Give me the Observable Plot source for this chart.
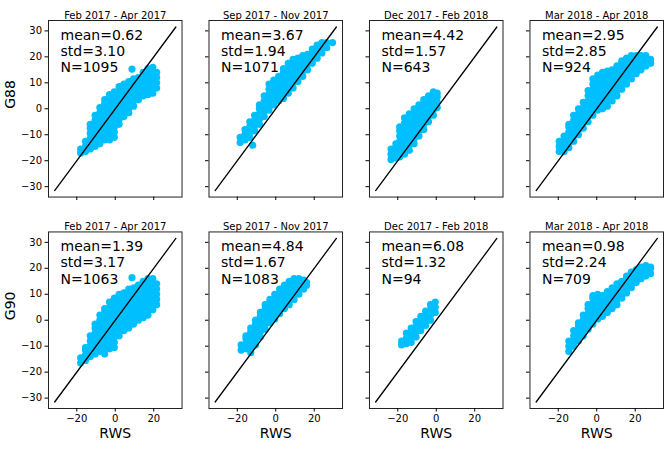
<!DOCTYPE html>
<html>
<head>
<meta charset="utf-8">
<script src="https://cdn.jsdelivr.net/npm/d3@7"></script>
<script src="https://cdn.jsdelivr.net/npm/@observablehq/plot@0.6"></script>
<style>
  html, body { margin: 0; padding: 0; background: #fff; }
  #chart { width: 669px; height: 451px; }
</style>
</head>
<body>
<div id="chart"></div>
<script>
// Panels: one column per period, one row per gauge
const periods = ["Feb 2017 - Apr 2017", "Sep 2017 - Nov 2017", "Dec 2017 - Feb 2018", "Mar 2018 - Apr 2018"];
const stations = ["G88", "G90"];

// Difference statistics printed in each panel
const meanG88 = [0.62, 3.67, 4.42, 2.95];
const stdG88 = [3.10, 1.94, 1.57, 2.85];
const countG88 = [1095, 1071, 643, 924];
const meanG90 = [1.39, 4.84, 6.08, 0.98];
const stdG90 = [3.17, 1.67, 1.32, 2.24];
const countG90 = [1063, 1083, 94, 709];

const xTicks = [-20, 0, 20];
const yTicks = [-30, -20, -10, 0, 10, 20, 30];
const diagonal = [-31.5, 31.5];

// Scatter samples, grouped by RWS value: [RWS, [gauge values]]
const g88FebApr2017 = [
  [-18, [-17, -15.5]],
  [-15.5, [-16.5, -14.5, -12.5]],
  [-13, [-15.5, -13.5, -11.5, -9.5, -7.5, -6]],
  [-10.5, [-14.5, -12.5, -10.5, -8.5, -6.5, -4.5, -2.5]],
  [-8, [-13.5, -11.5, -9.5, -7.5, -5.5, -3.5, -1.5, 0.5]],
  [-5.5, [-12, -10, -8, -6, -4, -2, 0, 2, 3.5]],
  [-3, [-12, -10, -8, -6, -4, -2, 0, 2, 4, 5.5]],
  [-0.5, [-11, -9, -7, -5, -3, -1, 1, 3, 5, 6.5]],
  [2, [-6, -4, -2, 0, 2, 4, 6, 8.5]],
  [4.5, [-3, -1, 1, 3, 5, 7, 9.5]],
  [7, [-1.5, 0.5, 2.5, 4.5, 6.5, 8.5, 10.5]],
  [8.7, [15.3]],
  [9.5, [1, 3, 5, 7, 9, 11.5]],
  [12, [3.5, 5.5, 7.5, 9.5, 12]],
  [14.5, [5, 7, 9, 11, 12.5, 14]],
  [17, [5.5, 7.5, 9.5, 11.5, 13.5, 15.5]],
  [19.5, [6, 8, 10, 12, 14, 16]],
  [21.5, [8, 10, 12, 14]]
];
const g88SepNov2017 = [
  [-18.5, [-13, -11]],
  [-16, [-12, -10, -8]],
  [-13.5, [-11, -9, -7, -5]],
  [-12, [-14]],
  [-11, [-8.5, -6.5, -4.5, -2.5]],
  [-8.5, [-6, -4, -2, 0, 1.5]],
  [-6, [-3, -1, 1, 3, 5]],
  [-3.5, [-0.5, 1.5, 3.5, 5.5, 7.5, 9.5]],
  [-1, [1.5, 3.5, 5.5, 7.5, 9.5, 11]],
  [1.5, [3, 5, 7, 9, 11, 12.5]],
  [4, [4, 6, 8, 10, 12, 14, 15.5]],
  [6.5, [6, 8, 10, 12, 14, 16, 17.5]],
  [9, [8, 10, 12, 14, 16, 18, 19]],
  [11.5, [10.5, 12.5, 14.5, 16.5, 18.5, 19.5]],
  [14, [12.5, 14.5, 16.5, 18.5, 20.5]],
  [16.5, [15, 17, 19, 21]],
  [19, [17.5, 19.5, 21.5, 23]],
  [21.5, [19.5, 21.5, 23, 24.5]],
  [24, [21.5, 23.5, 25.5]],
  [26.5, [23.5, 25.5]],
  [29.5, [25.5]]
];
const g88DecFeb2018 = [
  [-23.5, [-19.5, -17.5, -15.5]],
  [-21, [-19, -17, -15, -13.5]],
  [-19, [-18.5, -16.5, -14.5, -12.5, -10.5, -8.5, -7]],
  [-16.5, [-17.5, -15.5, -13.5, -11.5, -9.5, -7.5, -5.5, -3.5]],
  [-14, [-16, -14, -12, -10, -8, -6, -4, -2]],
  [-11.5, [-13.5, -11.5, -9.5, -7.5, -5.5, -3.5, -1.5, 0]],
  [-9, [-10.5, -8.5, -6.5, -4.5, -2.5, -0.5, 1.5]],
  [-6.5, [-8, -6, -4, -2, 0, 2, 3.5]],
  [-4, [-5, -3, -1, 1, 3, 5]],
  [-1.5, [-2.5, -0.5, 1.5, 3.5, 5.5, 6.5]],
  [0.5, [0.5, 2.5, 4.5, 6]]
];
const g88MarApr2018 = [
  [-19.5, [-16.5, -14.5, -12.5]],
  [-17, [-16.5, -14.5, -12.5, -10.5]],
  [-14.5, [-15, -13, -11, -9, -7, -6]],
  [-12, [-12.5, -10.5, -8.5, -6.5, -4.5, -2.5]],
  [-9.5, [-10, -8, -6, -4, -2, 0]],
  [-7, [-7.5, -5.5, -3.5, -1.5, 0.5, 2.5]],
  [-4.5, [-5, -3, -1, 1, 3, 5, 7]],
  [-2, [-2.5, -0.5, 1.5, 3.5, 5.5, 7.5, 9.5, 11.5]],
  [0.5, [-0.5, 1.5, 3.5, 5.5, 7.5, 9.5, 11.5, 13]],
  [3, [0, 2, 4, 6, 8, 10, 12, 14]],
  [5.5, [1, 3, 5, 7, 9, 11, 13, 14.5]],
  [8, [3, 5, 7, 9, 11, 13, 15]],
  [10.5, [5, 7, 9, 11, 13, 15, 16.5]],
  [13, [7.5, 9.5, 11.5, 13.5, 15.5, 17.5, 18.5]],
  [15.5, [9.5, 11.5, 13.5, 15.5, 17.5, 19.5]],
  [18, [11.5, 13.5, 15.5, 17.5, 19.5, 20.5]],
  [20.5, [13.5, 15.5, 17.5, 19.5, 20.5]],
  [23, [15, 17, 19, 20.5]],
  [25.5, [16.5, 18.5, 20.5]],
  [28, [17.5, 19]]
];
const g90FebApr2017 = [
  [-18, [-16.5, -14.5]],
  [-15.5, [-15.5, -13.5, -11.5, -10.5]],
  [-13, [-14, -12, -10, -8, -6]],
  [-10.5, [-13, -11, -9, -7, -5, -3, -1.5]],
  [-8, [-12, -10, -8, -6, -4, -2, 0, 2]],
  [-5.5, [-13, -11, -9, -7, -5, -3, -1, 1, 3, 4.5]],
  [-3, [-11, -9, -7, -5, -3, -1, 1, 3, 5, 7]],
  [-0.5, [-10.5, -8.5, -6.5, -4.5, -2.5, -0.5, 1.5, 3.5, 5.5, 7.5, 8.5]],
  [2, [-6, -4, -2, 0, 2, 4, 6, 8, 10]],
  [4.5, [-4, -2, 0, 2, 4, 6, 8, 10.5]],
  [7, [-3, -1, 1, 3, 5, 7, 9, 11, 12]],
  [8.7, [16.4]],
  [9.5, [-1.5, 0.5, 2.5, 4.5, 6.5, 8.5, 10.5, 12.5]],
  [12, [0, 2, 4, 6, 8, 10, 12, 13.5]],
  [14.5, [1, 3, 5, 7, 9, 11, 13, 15]],
  [17, [2, 4, 6, 8, 10, 12, 14, 16]],
  [19.5, [4, 6, 8, 10, 12, 14, 16]],
  [21.5, [6, 8, 10, 12, 14]]
];
const g90SepNov2017 = [
  [-18, [-11.5, -9.5]],
  [-15.5, [-11, -9, -7, -6]],
  [-13, [-12.5, -10.5, -8.5, -6.5, -4.5, -3]],
  [-10.5, [-9.5, -7.5, -5.5, -3.5, -1.5, 0]],
  [-8, [-6.5, -4.5, -2.5, -0.5, 1.5, 3]],
  [-5.5, [-3.5, -1.5, 0.5, 2.5, 4.5, 6]],
  [-3, [-1, 1, 3, 5, 7, 8]],
  [-0.5, [0.5, 2.5, 4.5, 6.5, 8.5, 10]],
  [2, [2.5, 4.5, 6.5, 8.5, 10.5, 12]],
  [4.5, [4.5, 6.5, 8.5, 10.5, 12.5, 13.5]],
  [7, [6, 8, 10, 12, 14, 15]],
  [9.5, [8, 10, 12, 14, 16]],
  [12, [10, 12, 14, 16]],
  [14.5, [12, 14, 15.5]],
  [16, [13.5, 14.5]]
];
const g90DecFeb2018 = [
  [-18, [-9.5, -8]],
  [-15.5, [-9, -7, -5]],
  [-13, [-8.5, -6.5, -4.5, -3]],
  [-10.5, [-6.5, -4.5, -2.5, -0.5]],
  [-8, [-4, -2, 0, 1.5]],
  [-5.5, [-2, 0, 2, 3.5]],
  [-3, [0, 2, 4, 6]],
  [-0.5, [3, 5, 7]]
];
const g90MarApr2018 = [
  [-14.5, [-12, -10, -8]],
  [-12, [-10, -8, -6, -4]],
  [-9.5, [-8, -6, -4, -2, -1]],
  [-7, [-6, -4, -2, 0, 2]],
  [-4.5, [-3.5, -1.5, 0.5, 2.5, 4.5, 6]],
  [-2, [-1.5, 0.5, 2.5, 4.5, 6.5, 8.5, 9.5]],
  [0.5, [0.5, 2.5, 4.5, 6.5, 8.5, 10]],
  [3, [1.5, 3.5, 5.5, 7.5, 9.5]],
  [5.5, [3, 5, 7, 9, 11]],
  [8, [4.5, 6.5, 8.5, 10.5, 12.5]],
  [10.5, [6, 8, 10, 12, 14]],
  [13, [8.5, 10.5, 12.5, 14.5, 15]],
  [15.5, [10.5, 12.5, 14.5, 16.5, 17]],
  [18, [12.5, 14.5, 16.5, 18.5]],
  [20.5, [14.5, 16.5, 18.5, 19.5]],
  [23, [16, 18, 20, 20.5]],
  [25.5, [17, 19, 21]],
  [28, [18, 20, 20.5]]
];

const clouds = [
  [g88FebApr2017, g88SepNov2017, g88DecFeb2018, g88MarApr2018],
  [g90FebApr2017, g90SepNov2017, g90DecFeb2018, g90MarApr2018]
];
const means = [meanG88, meanG90];
const stds = [stdG88, stdG90];
const counts = [countG88, countG90];

// Long-format rows for the dot mark
const points = [];
clouds.forEach((row, s) => row.forEach((cols, p) => {
  for (const [x, ys] of cols) for (const y of ys) {
    points.push({station: stations[s], period: periods[p], x, y});
  }
}));

// One record per panel for titles and statistics
const panels = [];
stations.forEach((station, s) => periods.forEach((period, p) => {
  panels.push({station, period, mean: means[s][p], std: stds[s][p], n: counts[s][p]});
}));

const minus = d => (d < 0 ? "\u2212" + Math.abs(d) : String(d));

const chart = Plot.plot({
  width: 669,
  height: 451,
  marginLeft: 48,
  marginRight: 6,
  marginTop: 20,
  marginBottom: 43,
  style: {fontFamily: "'DejaVu Sans', sans-serif", fontSize: "10px", background: "#fff", color: "#000"},
  fx: {domain: periods, paddingInner: 0.168, paddingOuter: 0, round: false, axis: null},
  fy: {domain: stations, paddingInner: 0.165, paddingOuter: 0, round: false, axis: null},
  x: {domain: [-34.7, 34.7]},
  y: {domain: [-34, 34]},
  marks: [
    Plot.dot(points, {fx: "period", fy: "station", x: "x", y: "y", r: 3.6, fill: "#00bfff"}),
    Plot.line(diagonal, {x: d => d, y: d => d, stroke: "#000", strokeWidth: 1.3}),
    Plot.frame({stroke: "#222", strokeWidth: 1}),
    // tick marks (no labels) on every panel
    Plot.axisY({ticks: yTicks, tickSize: 3.5, fill: "none", label: null, facetAnchor: null}),
    Plot.axisX({anchor: "bottom", ticks: xTicks, tickSize: 3.5, fill: "none", label: null, facetAnchor: null}),
    // tick labels on the outer panels
    Plot.axisY({ticks: yTicks, tickSize: 0, tickPadding: 6.5, fontSize: 10, tickFormat: minus, label: null, facetAnchor: "left"}),
    Plot.axisX({anchor: "bottom", ticks: xTicks, tickSize: 0, tickPadding: 6.5, fontSize: 10, tickFormat: minus, label: null, facetAnchor: "bottom"}),
    // panel titles
    Plot.text(panels, {fx: "period", fy: "station", frameAnchor: "top", dy: -9, text: "period", fontSize: 10}),
    // statistics
    Plot.text(panels, {
      fx: "period", fy: "station", frameAnchor: "top-left", textAnchor: "start", lineAnchor: "top",
      dx: 12, dy: 8, fontSize: 14, lineHeight: 1.15,
      text: d => `mean=${d.mean.toFixed(2)}\nstd=${d.std.toFixed(2)}\nN=${d.n}`
    }),
    // axis titles
    Plot.text(periods, {fx: d => d, fy: () => "G90", frameAnchor: "bottom", dy: 29, text: () => "RWS", fontSize: 14}),
    Plot.text(stations, {fy: d => d, fx: () => periods[0], frameAnchor: "left", dx: -37.5, rotate: -90, text: d => d, fontSize: 14})
  ]
});
document.getElementById("chart").append(chart);
</script>
</body>
</html>
